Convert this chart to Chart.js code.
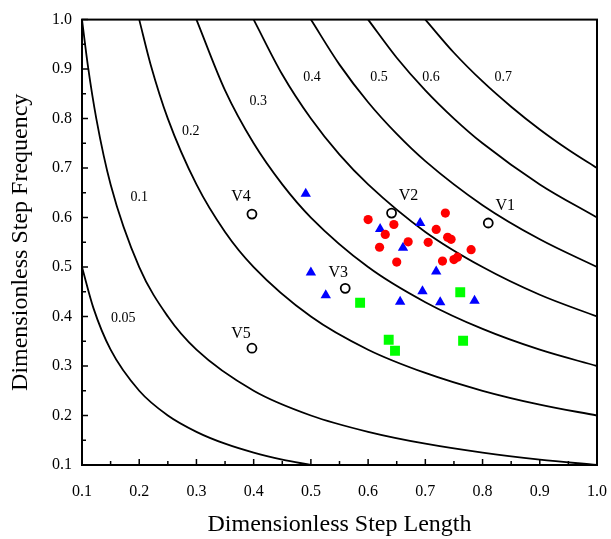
<!DOCTYPE html>
<html>
<head>
<meta charset="utf-8">
<script src="https://cdn.jsdelivr.net/npm/chart.js@4/dist/chart.umd.min.js"></script>
<style>
html,body{margin:0;padding:0;background:#fff;}
#wrap{width:611px;height:539px;}
</style>
</head>
<body>
<div id="wrap"><canvas id="c" width="611" height="539"></canvas></div>
<script>
// ---- Data ----
const xTicks = [0.1,0.2,0.3,0.4,0.5,0.6,0.7,0.8,0.9,1.0];
const yTicks = [0.1,0.2,0.3,0.4,0.5,0.6,0.7,0.8,0.9,1.0];

// iso-speed curves
const curveLabels = ["0.05","0.1","0.2","0.3","0.4","0.5","0.6","0.7"];
const c005X = [0.1,0.12,0.15,0.2,0.25,0.3,0.35,0.4,0.45,0.5];
const c005Y = [0.5,0.417,0.333,0.25,0.2,0.167,0.143,0.125,0.111,0.1];
const c01X = [0.1,0.11,0.125,0.15,0.2,0.25,0.3,0.4,0.5,0.6,0.7,0.8,0.9,1.0];
const c01Y = [1.0,0.909,0.8,0.667,0.5,0.4,0.333,0.25,0.2,0.167,0.143,0.125,0.111,0.1];
const c02X = [0.2,0.22,0.25,0.3,0.35,0.4,0.5,0.6,0.7,0.8,0.9,1.0];
const c02Y = [1.0,0.909,0.8,0.667,0.571,0.5,0.4,0.333,0.286,0.25,0.222,0.2];
const c03X = [0.3,0.35,0.4,0.45,0.5,0.6,0.7,0.8,0.9,1.0];
const c03Y = [1.0,0.857,0.75,0.667,0.6,0.5,0.429,0.375,0.333,0.3];
const c04X = [0.4,0.45,0.5,0.55,0.6,0.7,0.8,0.9,1.0];
const c04Y = [1.0,0.889,0.8,0.727,0.667,0.571,0.5,0.444,0.4];
const c05X = [0.5,0.55,0.6,0.65,0.7,0.8,0.9,1.0];
const c05Y = [1.0,0.909,0.833,0.769,0.714,0.625,0.556,0.5];
const c06X = [0.6,0.65,0.7,0.75,0.8,0.9,1.0];
const c06Y = [1.0,0.923,0.857,0.8,0.75,0.667,0.6];
const c07X = [0.7,0.75,0.8,0.85,0.9,0.95,1.0];
const c07Y = [1.0,0.933,0.875,0.824,0.778,0.737,0.7];
// label anchor (data units) for each curve label
const curveLabelX = [0.172,0.200,0.290,0.408,0.502,0.619,0.710,0.836];
const curveLabelY = [0.397,0.641,0.774,0.835,0.883,0.883,0.883,0.883];

// red circles
const redX = [0.600,0.645,0.630,0.620,0.670,0.650,0.735,0.719,0.739,0.745,0.705,0.780,0.730,0.750,0.756];
const redY = [0.596,0.586,0.566,0.540,0.551,0.510,0.609,0.576,0.560,0.556,0.550,0.535,0.512,0.515,0.520];
// blue triangles
const blueX = [0.491,0.621,0.691,0.661,0.500,0.526,0.719,0.695,0.656,0.726,0.786];
const blueY = [0.648,0.577,0.589,0.539,0.489,0.443,0.491,0.451,0.430,0.429,0.432];
// green squares
const greenX = [0.586,0.761,0.636,0.647,0.766];
const greenY = [0.428,0.449,0.353,0.331,0.351];
// open circles V1..V5
const vNames = ["V1","V2","V3","V4","V5"];
const vX = [0.810,0.641,0.560,0.397,0.397];
const vY = [0.589,0.609,0.457,0.607,0.336];

const zip = (xs, ys) => xs.map((x, i) => ({x: x, y: ys[i]}));
const curvesX = [c005X,c01X,c02X,c03X,c04X,c05X,c06X,c07X];
const curvesY = [c005Y,c01Y,c02Y,c03Y,c04Y,c05Y,c06Y,c07Y];

const SERIF = "'Liberation Serif','Times New Roman',serif";

const curveSets = curvesX.map((xs, i) => ({
  label: curveLabels[i],
  data: zip(xs, curvesY[i]),
  showLine: true,
  borderColor: '#000',
  borderWidth: 1.8,
  pointRadius: 0,
  pointHoverRadius: 0,
  cubicInterpolationMode: 'monotone',
  fill: false,
  order: 10
}));

const vLabelOffsets = [[17,-17],[17,-17],[-7,-16],[-11,-17],[-11,-14]];

const annot = {
  id: 'annot',
  beforeDatasetsDraw(chart) {
    const {ctx, chartArea: a} = chart;
    ctx.save();
    ctx.beginPath();
    ctx.rect(a.left, a.top, a.right - a.left, a.bottom - a.top);
    ctx.clip();
  },
  afterDatasetsDraw(chart) {
    const {ctx, chartArea: a, scales: {x, y}} = chart;
    ctx.restore();
    ctx.save();
    // frame
    ctx.strokeStyle = '#000';
    ctx.lineWidth = 2;
    ctx.strokeRect(a.left, a.top, a.right - a.left, a.bottom - a.top);
    // ticks (inward)
    ctx.lineWidth = 1.5;
    ctx.beginPath();
    for (let k = 0; k < xTicks.length; k++) {
      const v = xTicks[k];
      const px = x.getPixelForValue(v);
      ctx.moveTo(px, a.bottom); ctx.lineTo(px, a.bottom - 6);
      if (k < xTicks.length - 1) {
        const pm = x.getPixelForValue(v + 0.05);
        ctx.moveTo(pm, a.bottom); ctx.lineTo(pm, a.bottom - 4);
      }
    }
    for (let k = 0; k < yTicks.length; k++) {
      const v = yTicks[k];
      const py = y.getPixelForValue(v);
      ctx.moveTo(a.left, py); ctx.lineTo(a.left + 6, py);
      if (k < yTicks.length - 1) {
        const pm = y.getPixelForValue(v + 0.05);
        ctx.moveTo(a.left, pm); ctx.lineTo(a.left + 4, pm);
      }
    }
    ctx.stroke();
    // curve labels
    ctx.fillStyle = '#000';
    ctx.textAlign = 'center';
    ctx.textBaseline = 'middle';
    ctx.font = '14px ' + SERIF;
    curveLabels.forEach((t, i) => {
      ctx.fillText(t, x.getPixelForValue(curveLabelX[i]), y.getPixelForValue(curveLabelY[i]));
    });
    // V labels
    ctx.font = '16px ' + SERIF;
    vNames.forEach((t, i) => {
      ctx.fillText(t, x.getPixelForValue(vX[i]) + vLabelOffsets[i][0], y.getPixelForValue(vY[i]) + vLabelOffsets[i][1]);
    });
    ctx.restore();
  }
};

const chart = new Chart(document.getElementById('c'), {
  type: 'scatter',
  data: {
    datasets: [
      ...curveSets,
      {label: 'red', data: zip(redX, redY), pointStyle: 'circle', pointRadius: 4.6,
       backgroundColor: '#ff0000', borderColor: '#ff0000', borderWidth: 0, order: 1},
      {label: 'blue', data: zip(blueX, blueY), pointStyle: 'triangle', pointRadius: 6,
       backgroundColor: '#0000ff', borderColor: '#0000ff', borderWidth: 0, order: 1},
      {label: 'green', data: zip(greenX, greenY), pointStyle: 'rect', pointRadius: 7,
       backgroundColor: '#00ff00', borderColor: '#00ff00', borderWidth: 0, order: 1},
      {label: 'V', data: zip(vX, vY), pointStyle: 'circle', pointRadius: 4.5,
       backgroundColor: '#ffffff', borderColor: '#000', borderWidth: 1.8, order: 0}
    ]
  },
  options: {
    responsive: false,
    animation: false,
    events: [],
    layout: {padding: {top: 19, right: 14, left: 0, bottom: 0}},
    plugins: {legend: {display: false}, tooltip: {enabled: false}},
    scales: {
      x: {
        type: 'linear', min: 0.1, max: 1.0,
        afterFit(s) { s.height = 74; s.paddingRight = 0; },
        afterBuildTicks(s) { s.ticks = xTicks.map(v => ({value: v})); },
        grid: {display: false, drawTicks: false},
        border: {display: false},
        ticks: {color: '#000', padding: 17, font: {family: SERIF, size: 16},
                callback: v => Number(v).toFixed(1), maxRotation: 0, autoSkip: false},
        title: {display: true, text: 'Dimensionless Step Length', color: '#000',
                font: {family: SERIF, size: 24}, padding: {top: 0, bottom: 0}}
      },
      y: {
        type: 'linear', min: 0.1, max: 1.0,
        afterFit(s) { s.width = 82; },
        afterBuildTicks(s) { s.ticks = yTicks.map(v => ({value: v})); },
        grid: {display: false, drawTicks: false},
        border: {display: false},
        ticks: {color: '#000', padding: 10, font: {family: SERIF, size: 16},
                callback: v => Number(v).toFixed(1), autoSkip: false},
        title: {display: true, text: 'Dimensionless Step Frequency', color: '#000',
                font: {family: SERIF, size: 24}, padding: {top: 6, bottom: 0}}
      }
    }
  },
  plugins: [annot]
});
</script>
</body>
</html>
